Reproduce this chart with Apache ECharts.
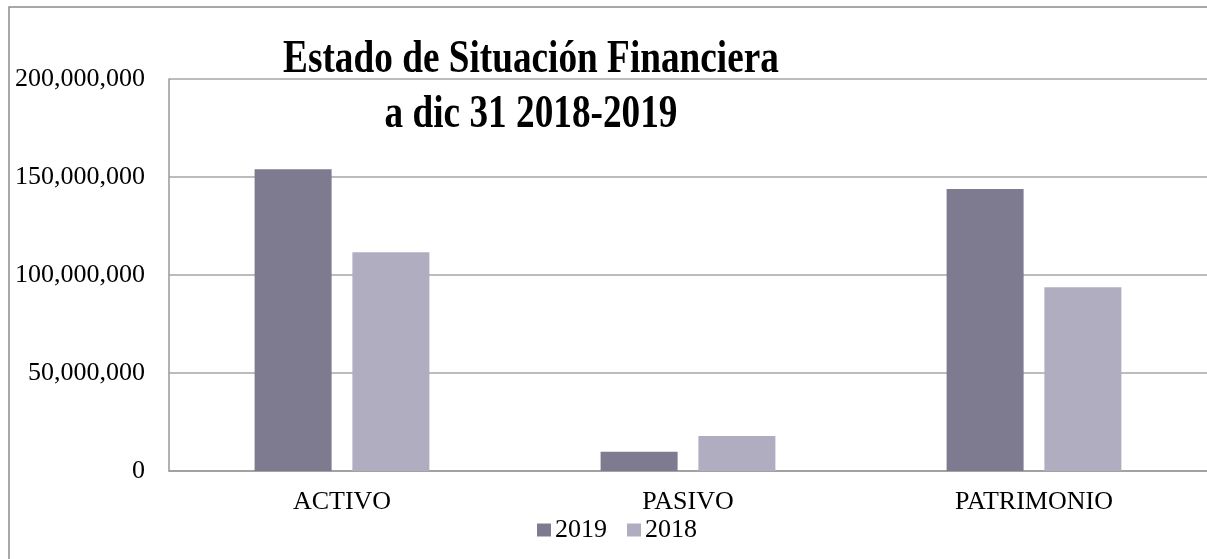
<!DOCTYPE html>
<html>
<head>
<meta charset="utf-8">
<script src="https://cdn.jsdelivr.net/npm/echarts@6/dist/echarts.min.js"></script>
<style>
  html, body { margin: 0; padding: 0; background: #fff; }
  #chart { width: 1207px; height: 559px; }
</style>
</head>
<body>
<div id="chart"></div>
<script>
const categories = ['ACTIVO', 'PASIVO', 'PATRIMONIO'];
const values2019 = [153900000, 9850000, 143900000];
const values2018 = [111600000, 17900000, 93700000];
const seriesNames = ['2019', '2018'];
const titleText = 'Estado de Situación Financiera\na dic 31 2018-2019';

const chart = echarts.init(document.getElementById('chart'));
const font = '"Liberation Serif", "Times New Roman", serif';

const option = {
    animation: false,
    backgroundColor: '#fff',
    textStyle: { fontFamily: font },
    graphic: [
        {
            type: 'rect',
            shape: { x: 9, y: 7, width: 1230, height: 600 },
            style: { fill: null, stroke: '#8c8c8c', lineWidth: 1.5 },
            silent: true,
            z: -1
        },
        {
            // title drawn as text so it can be narrowed like the original
            type: 'text',
            x: 531,
            y: 33,
            scaleX: 0.81,
            z: 10,
            style: {
                text: titleText,
                fontFamily: font,
                fontSize: 46,
                fontWeight: 'bold',
                lineHeight: 55,
                fill: '#000',
                textAlign: 'center',
                textVerticalAlign: 'top'
            }
        }
    ],
    legend: {
        data: seriesNames,
        left: 532,
        top: 512,
        icon: 'rect',
        itemWidth: 14,
        itemHeight: 13,
        itemGap: 20,
        textStyle: { fontFamily: font, fontSize: 26, color: '#000', padding: [0, 0, 0, -1] }
    },
    grid: { left: 169, top: 79, width: 1041, height: 392 },
    xAxis: {
        type: 'category',
        data: categories,
        axisLine: { lineStyle: { color: '#999', width: 1.5 } },
        axisTick: { show: false },
        axisLabel: { fontFamily: font, fontSize: 26, color: '#000', margin: 18 }
    },
    yAxis: {
        type: 'value',
        min: 0,
        max: 200000000,
        interval: 50000000,
        axisLine: { show: true, lineStyle: { color: '#999', width: 1.5 } },
        axisTick: { show: false },
        splitLine: { lineStyle: { color: '#a6a6a6', width: 1.5 } },
        axisLabel: {
            fontFamily: font, fontSize: 26, color: '#000', margin: 24,
            formatter: v => v.toLocaleString('en-US')
        }
    },
    series: [
        {
            name: '2019',
            type: 'bar',
            data: values2019,
            barWidth: 77,
            barGap: '27%',
            itemStyle: { color: '#7e7a90' }
        },
        {
            name: '2018',
            type: 'bar',
            data: values2018,
            barWidth: 77,
            itemStyle: { color: '#b0adc0' }
        }
    ]
};

chart.setOption(option);
</script>
</body>
</html>
